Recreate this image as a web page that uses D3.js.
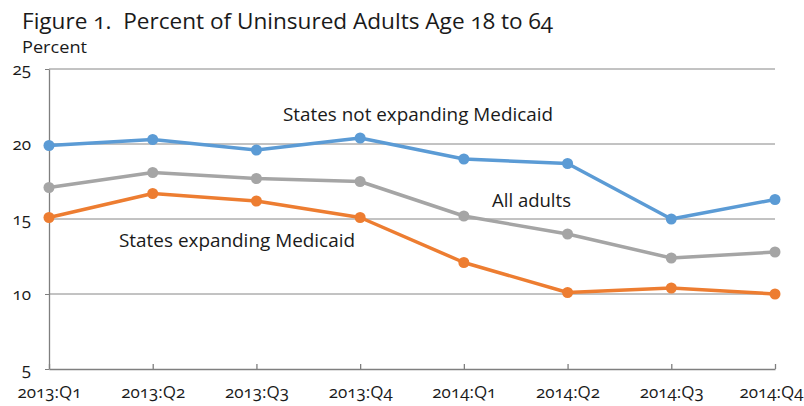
<!DOCTYPE html>
<html><head><meta charset="utf-8">
<script src="https://cdn.jsdelivr.net/npm/d3@7"></script>
<style>
body{margin:0;background:#fff;}
svg text{font-family:"Open Sans",sans-serif;fill:#1a1a1a;font-variant-numeric:oldstyle-nums;white-space:pre;}
</style></head><body>
<svg id="c" width="804" height="406"></svg>
<script>
const categories = ["2013:Q1","2013:Q2","2013:Q3","2013:Q4","2014:Q1","2014:Q2","2014:Q3","2014:Q4"];
const notExpanding = [19.9,20.3,19.6,20.4,19.0,18.7,15.0,16.3];
const allAdults = [17.1,18.1,17.7,17.5,15.2,14.0,12.4,12.8];
const expanding = [15.1,16.7,16.2,15.1,12.1,10.1,10.4,10.0];
const yTicks = [5,10,15,20,25];
const seriesNames = ["States not expanding Medicaid","All adults","States expanding Medicaid"];
const colors = ["#5B9BD5","#A5A5A5","#ED7D31"];

const svg = d3.select("#c");
const x = d3.scalePoint().domain(categories).range([49,775]);
const y = d3.scaleLinear().domain([5,25]).range([369,69]);

svg.append("text").attr("x",22).attr("y",29).attr("font-size",22)
  .attr("textLength",531).attr("lengthAdjust","spacingAndGlyphs")
  .text("Figure 1.  Percent of Uninsured Adults Age 18 to 64");
svg.append("text").attr("x",22).attr("y",53).attr("font-size",17)
  .attr("textLength",65).attr("lengthAdjust","spacingAndGlyphs").text("Percent");

// gridlines
svg.append("g").selectAll("line").data(yTicks.filter(d=>d>5)).join("line")
  .attr("x1",49).attr("x2",775).attr("y1",d=>y(d)).attr("y2",d=>y(d))
  .attr("stroke","#868686").attr("stroke-width",1);

// y axis
const ya = svg.append("g").attr("transform","translate(49,0)")
  .call(d3.axisLeft(y).tickValues(yTicks).tickSize(4).tickSizeOuter(0).tickPadding(14));
ya.select(".domain").attr("stroke","#7f7f7f").attr("stroke-width",1.3);
ya.selectAll(".tick line").attr("stroke","#7f7f7f").attr("stroke-width",1);
ya.selectAll("text").attr("font-size",17).attr("font-family","Open Sans").attr("fill","#1a1a1a");

// x axis
const xa = svg.append("g").attr("transform","translate(0,369)")
  .call(d3.axisBottom(x).tickSize(-5).tickSizeOuter(0).tickPadding(17));
xa.select(".domain").attr("stroke","#7f7f7f").attr("stroke-width",1.3);
xa.selectAll(".tick line").attr("stroke","#7f7f7f").attr("stroke-width",1.3);
xa.selectAll("text").attr("font-size",17).attr("font-family","Open Sans").attr("fill","#1a1a1a");
// keep the last label inside the page edge
xa.selectAll(".tick").filter(d=>d===categories[categories.length-1]).select("text")
  .attr("text-anchor","end").attr("x",803-x(categories[categories.length-1]));

const all = [notExpanding, allAdults, expanding];
const line = d3.line().x((d,i)=>x(categories[i])).y(d=>y(d));
all.forEach((vals,k)=>{
  svg.append("path").datum(vals).attr("d",line).attr("fill","none")
    .attr("stroke",colors[k]).attr("stroke-width",3.5).attr("stroke-linejoin","round");
  svg.append("g").selectAll("circle").data(vals).join("circle")
    .attr("cx",(d,i)=>x(categories[i])).attr("cy",d=>y(d)).attr("r",5.5).attr("fill",colors[k]);
});

// series labels
const labelPos = [[283,121,270],[492,207,79],[119,247,236]];
seriesNames.forEach((n,k)=>{
  svg.append("text").attr("x",labelPos[k][0]).attr("y",labelPos[k][1]).attr("font-size",19)
    .attr("textLength",labelPos[k][2]).attr("lengthAdjust","spacingAndGlyphs").text(n);
});
</script></body></html>
